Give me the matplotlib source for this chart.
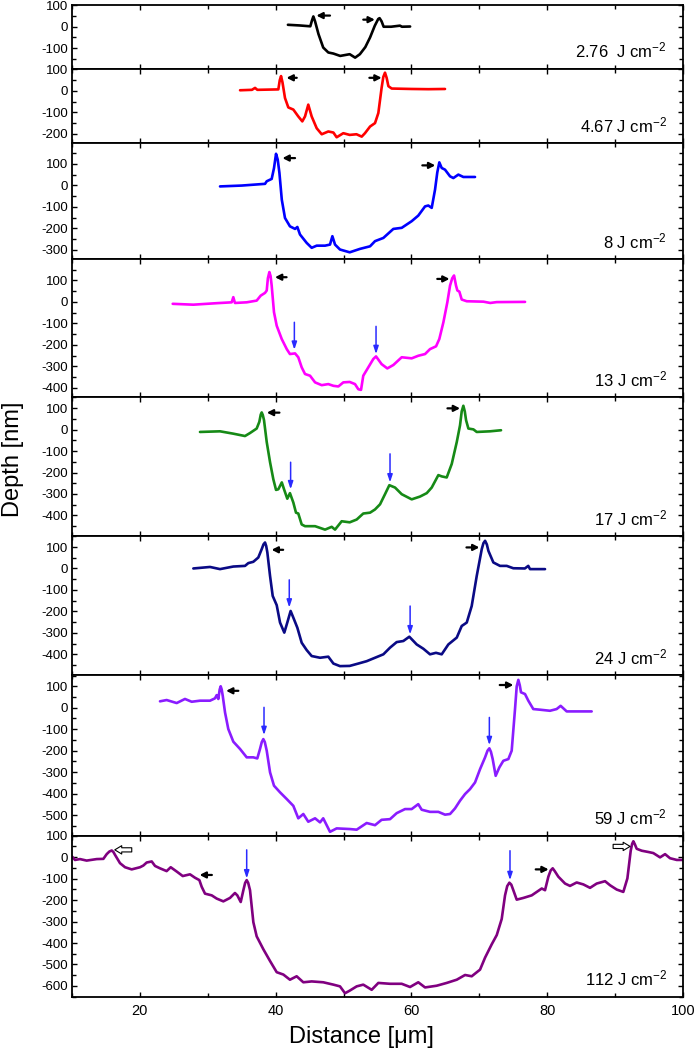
import matplotlib
matplotlib.use("Agg")
import matplotlib.pyplot as plt
from matplotlib.ticker import MultipleLocator

plt.rcParams['font.family'] = ['Liberation Sans', 'DejaVu Sans']
plt.rcParams['mathtext.default'] = 'regular'
plt.rcParams['axes.unicode_minus'] = False

# profile data (x in um, depth in nm)
x_276 = [41.8, 43.5, 45.1, 45.35, 45.55, 45.8, 46.3, 47.0, 47.75, 48.5, 49.5, 50.9, 51.7, 52.4, 53.2, 53.9, 54.6, 55.1, 55.3, 55.6,
         55.9, 57.0, 58.3, 58.6, 59.8]
y_276 = [9, 6, 2, 30, 48, 25, -34, -97, -120, -125, -136, -128, -144, -128, -95, -50, 5, 36, 40, 25,
         0, 0, 5, 0, 1]

x_467 = [34.75, 36.5, 36.96, 37.3, 40.39, 40.6, 40.79, 41.0, 41.37, 41.86, 42.6, 43.33, 43.92, 44.32, 44.8, 45.3, 46.04, 46.78,
         47.75, 48.5, 48.98, 49.96, 50.9, 51.9, 52.67, 53.15, 53.9, 54.63, 55.12, 55.6, 55.85, 56.1, 56.35, 56.6, 57.09, 60.0,
         62.5, 64.94]
y_467 = [3, 5, 14, 5, 7, 50, 69, 40, -33, -77, -87, -119, -142, -119, -64, -119, -174, -202,
         -189, -194, -216, -197, -205, -202, -213, -197, -166, -150, -103, 14, 65, 85, 60, 22, 11, 9,
         8, 9]

x_8 = [31.8, 35.0, 38.43, 38.68, 39.41, 39.75, 40.05, 40.3, 40.55, 40.9, 41.37, 42.1, 42.85, 43.19, 43.58, 44.56, 45.3, 46.04,
       47.27, 48.0, 48.35, 48.74, 49.47, 50.9, 52.42, 53.9, 54.63, 55.86, 57.33, 58.56, 60.03, 61.0, 62.0, 62.48, 62.98, 63.47,
       63.8, 64.1, 64.45, 64.94, 65.68, 66.17, 66.9, 67.64, 69.36]
y_8 = [-5, -1, 7, 19, 30, 80, 147, 120, 58, -67, -152, -191, -203, -194, -229, -268, -291, -281,
       -281, -276, -237, -276, -299, -312, -296, -284, -260, -245, -203, -198, -167, -141, -98, -94, -105, -20,
       60, 107, 81, 73, 42, 34, 50, 39, 39]

x_13 = [24.83, 27.87, 31.31, 33.52, 33.76, 34.0, 35.73, 37.2, 37.79, 38.43, 38.68, 38.85, 39.07, 39.25, 39.41, 39.75, 40.15, 40.89,
        41.63, 42.1, 42.85, 43.33, 43.83, 44.32, 45.06, 45.8, 46.78, 47.75, 48.5, 49.23, 49.96, 50.9, 51.68, 52.17, 52.57, 52.9,
        53.64, 54.38, 54.78, 55.6, 56.44, 57.33, 58.56, 60.03, 61.0, 62.0, 62.73, 63.62, 64.1, 64.7, 65.28, 65.68, 66.0, 66.27,
        66.56, 66.76, 67.05, 67.4, 68.14, 70.6, 71.6, 72.55, 76.73]
y_13 = [-9, -13, -6, -2, 22, -5, -2, 6, 29, 42, 53, 110, 139, 120, 76, -48, -111, -173,
        -220, -243, -240, -258, -305, -336, -344, -375, -388, -383, -391, -394, -375, -373, -383, -407, -410, -344,
        -305, -266, -254, -290, -310, -294, -258, -263, -251, -243, -220, -207, -173, -95, -2, 76, 110, 123,
        76, 53, 48, 11, 3, 1, -5, -1, 0]

x_17 = [28.85, 31.8, 33.76, 35.48, 36.22, 37.2, 37.59, 37.8, 37.94, 38.1, 38.28, 38.68, 39.17, 39.65, 40.05, 40.39, 40.9, 41.23,
        41.71, 42.1, 42.6, 42.99, 43.33, 43.83, 44.32, 45.8, 47.27, 48.25, 48.74, 49.72, 50.9, 51.93, 52.9, 53.9, 54.63, 55.37,
        56.1, 56.74, 57.58, 58.56, 60.03, 61.26, 62.25, 62.98, 63.96, 64.45, 65.19, 65.93, 66.67, 67.15, 67.4, 67.64, 67.85,
        68.04, 68.38, 69.12, 69.61, 71.57, 73.19]
y_17 = [-11, -8, -19, -30, -16, 5, 36, 70, 80, 68, 44, -58, -152, -231, -281, -278, -246, -278,
        -322, -296, -340, -387, -391, -442, -450, -450, -466, -453, -466, -427, -432, -419, -391, -387, -372, -348,
        -301, -259, -270, -301, -325, -312, -296, -270, -212, -218, -223, -160, -58, 20, 85, 111, 85,
        44, 5, 1, -11, -8, -3]

x_24 = [27.87, 30.33, 31.8, 33.76, 35.48, 35.97, 36.7, 37.44, 37.94, 38.2, 38.43, 38.6, 38.77, 39.17, 39.56, 40.15, 40.64, 41.27,
        41.71, 42.2, 42.7, 43.19, 43.83, 44.56, 45.3, 46.53, 47.75, 48.5, 49.47, 50.9, 52.17, 53.4, 54.63, 55.86, 56.84, 57.82,
        58.8, 59.68, 60.77, 61.75, 62.73, 63.61, 64.45, 65.43, 66.67, 67.4, 68.14, 68.87, 69.61, 70.35, 70.6, 70.84, 71.1,
        71.33, 72.06, 73.04, 74.03, 75.0, 76.7, 77.2, 77.46, 79.67]
y_24 = [0, 7, -3, 9, 12, 25, 31, 51, 90, 112, 121, 105, 75, -35, -128, -171, -252, -299,
        -252, -198, -237, -276, -346, -380, -408, -416, -411, -443, -455, -454, -443, -432, -416, -400, -369, -343,
        -338, -318, -354, -374, -400, -393, -400, -354, -322, -268, -252, -175, -35, 90, 118, 129, 112,
        82, 28, 12, 12, 1, 0, 12, -3, -3]

x_59 = [22.96, 23.94, 25.42, 26.64, 27.63, 28.85, 30.33, 31.06, 31.31, 31.55, 31.75, 31.9, 32.05, 32.2, 32.54, 33.02, 33.76, 34.75,
        35.73, 36.7, 37.29, 37.69, 37.95, 38.18, 38.4, 38.68, 39.17, 39.75, 40.64, 41.62, 42.6, 43.33, 44.07, 44.8, 45.8, 46.53,
        47.0, 48.0, 48.98, 50.9, 51.93, 53.4, 54.63, 55.6, 56.84, 57.82, 59.05, 60.03, 61.0, 61.5, 62.73, 63.96, 64.94, 65.68,
        66.41, 67.15, 67.89, 68.62, 69.36, 70.1, 70.84, 71.2, 71.47, 71.7, 71.96, 72.4, 72.94, 73.53, 74.27, 74.76, 75.25,
        75.5, 75.74, 75.95, 76.13, 76.72, 77.21, 77.94, 78.93, 80.4, 81.38, 81.97, 82.86, 86.54]
y_59 = [30, 36, 22, 41, 28, 33, 33, 44, 59, 41, 85, 100, 85, 56, -22, -99, -158, -192,
        -231, -231, -236, -192, -160, -146, -160, -200, -301, -363, -394, -425, -457, -515, -495, -531, -515, -534,
        -515, -578, -562, -565, -568, -537, -547, -522, -519, -491, -472, -472, -449, -475, -485, -485, -498, -495,
        -469, -433, -402, -379, -348, -286, -231, -200, -189, -205, -239, -317, -278, -247, -239, -200, -6,
        100, 130, 105, 72, 64, 33, -6, -9, -14, -6, 9, -17, -17]

x_112 = [10.0, 10.44, 11.18, 12.16, 13.64, 14.62, 15.11, 15.5, 15.85, 16.1, 16.33, 17.07, 17.81, 18.79, 20.02, 20.51, 21.0, 21.74,
         22.23, 22.96, 23.94, 24.54, 25.42, 26.31, 27.38, 28.12, 28.76, 29.1, 29.59, 30.58, 31.31, 32.29, 33.27, 34.0, 34.35,
         34.85, 35.24, 35.5, 35.73, 35.95, 36.22, 36.71, 37.2, 38.18, 39.17, 40.15, 41.13, 42.1, 43.09, 44.07, 45.3, 47.01, 48.5,
         49.47, 50.21, 50.9, 51.93, 52.9, 54.14, 55.12, 56.84, 58.56, 59.79, 61.0, 62.0, 63.71, 65.19, 66.67, 67.89, 68.87, 70.1,
         70.84, 71.82, 72.56, 73.29, 73.78, 74.1, 74.42, 74.7, 74.91, 75.5, 76.48, 77.71, 78.45, 79.19, 79.67, 80.16, 80.5,
         80.8, 81.1, 81.63, 82.62, 83.35, 84.33, 85.31, 86.3, 87.28, 88.51, 89.25, 90.23, 91.2, 91.8, 92.29, 92.5, 92.68, 92.9,
         93.17, 93.91, 94.89, 95.62, 96.61, 97.35, 98.08, 99.07, 100.0]
y_112 = [3, -13, -9, -16, -9, -8, 14, 26, 31, 24, 11, -28, -47, -57, -47, -39, -25, -20,
         -41, -52, -65, -47, -67, -88, -80, -96, -107, -138, -170, -178, -193, -206, -190, -167, -178,
         -209, -154, -120, -107, -120, -154, -303, -369, -429, -484, -536, -547, -571, -555, -583, -579, -583, -594,
         -602, -634, -622, -602, -594, -618, -586, -590, -590, -605, -583, -607, -599, -586, -571, -549, -555, -524,
         -468, -406, -363, -288, -178, -135, -119, -128, -146, -198, -190, -178, -162, -146, -154, -91, -62,
         -52, -65, -91, -123, -134, -118, -127, -143, -123, -112, -131, -151, -162, -99, 30, 62, 74, 60,
         39, 30, 24, 19, -1, 14, -5, -13, -13]

profiles = [(x_276, y_276), (x_467, y_467), (x_8, y_8), (x_13, y_13),
            (x_17, y_17), (x_24, y_24), (x_59, y_59), (x_112, y_112)]
labels = ['2.76  J cm$^{-2}$', '4.67 J cm$^{-2}$', '8 J cm$^{-2}$', '13 J cm$^{-2}$',
          '17 J cm$^{-2}$', '24 J cm$^{-2}$', '59 J cm$^{-2}$', '112 J cm$^{-2}$']
colors = ['black', '#ff0000', '#0000ff', '#ff00ff', '#168a16', '#0a0a85', '#8a1cff', '#800080']
ylims = [(-197, 101), (-245, 102), (-345, 195), (-445, 198), (-497, 150), (-497, 150), (-596, 152), (-650, 100)]

# black arrows: (x_tail, x_head, y) for rim peaks
black_arrows = [
    [(48.0, 46.0, 52), (52.9, 54.6, 33)],
    [(43.1, 41.6, 61), (53.8, 55.6, 61)],
    [(42.85, 41.0, 127), (61.6, 63.5, 93)],
    [(41.6, 39.9, 115), (63.8, 65.6, 107)],
    [(40.55, 38.7, 79), (65.3, 67.15, 99)],
    [(41.1, 39.4, 87), (68.1, 70.0, 98)],
    [(34.5, 32.7, 79), (73.0, 75.0, 106)],
    [(30.6, 28.8, -83), (78.3, 80.2, -57)],
]
# blue arrows: (x, y_top, y_tip)
blue_arrows = [
    [], [], [],
    [(42.75, -95, -223), (54.78, -114, -243)],
    [(42.2, -152, -278), (56.84, -113, -246)],
    [(42.0, -53, -182), (59.8, -175, -307)],
    [(38.28, 2, -127), (71.47, -45, -174)],
    [(35.73, 34, -99), (74.51, 30, -107)],
]
# open arrows on the last profile
open_arrows = [(18.8, 16.3, 34), (89.7, 92.2, 50)]

heights = [hi - lo for lo, hi in ylims]

fig = plt.figure(figsize=(6.97, 10.52), dpi=100)
gs = fig.add_gridspec(8, 1, height_ratios=heights, hspace=0,
                      left=0.1033, right=0.98, top=0.9952, bottom=0.0526)

axes = []
for i in range(8):
    ax = fig.add_subplot(gs[i], sharex=axes[0] if axes else None)
    axes.append(ax)
    xs, ys = profiles[i]
    ax.plot(xs, ys, color=colors[i], lw=1.9, solid_joinstyle='round', solid_capstyle='round')
    ax.set_xlim(10, 100)
    ax.set_ylim(*ylims[i])
    ax.xaxis.set_major_locator(MultipleLocator(20))
    ax.xaxis.set_minor_locator(MultipleLocator(10))
    ax.yaxis.set_major_locator(MultipleLocator(100))
    ax.yaxis.set_minor_locator(MultipleLocator(50))
    ax.tick_params(which='both', direction='in', top=True, right=True, width=1.0)
    ax.tick_params(which='major', length=3.5, labelsize=9.5, pad=3)
    ax.tick_params(which='minor', length=3.0)
    ax.tick_params(axis='x', labelsize=10.5, pad=5)
    for sp in ax.spines.values():
        sp.set_linewidth(1.3)
    if i < 7:
        ax.tick_params(axis='x', labelbottom=False)

    ax.annotate(labels[i], xy=(1, 0), xycoords='axes fraction', xytext=(-11.5, 8),
                textcoords='offset points', ha='right', va='baseline', fontsize=12)

    for xt, xh, ya in black_arrows[i]:
        ax.annotate('', xy=(xh, ya), xytext=(xt, ya),
                    arrowprops=dict(arrowstyle='-|>,head_length=0.35,head_width=0.18',
                                    color='black', lw=1.6, shrinkA=0, shrinkB=0))
    for xa, y0, y1 in blue_arrows[i]:
        ax.annotate('', xy=(xa, y1), xytext=(xa, y0),
                    arrowprops=dict(arrowstyle='-|>,head_length=0.45,head_width=0.15',
                                    color='#2a2aff', lw=1.1, shrinkA=0, shrinkB=0))

ax = axes[7]
for xt, xh, ya in open_arrows:
    ax.annotate('', xy=(xh, ya), xytext=(xt, ya),
                arrowprops=dict(arrowstyle='simple,head_length=0.5,head_width=0.6,tail_width=0.3',
                                fc='white', ec='black', lw=0.8, shrinkA=0, shrinkB=0))

fig.text(0.0187, 1 - 459 / 1052, 'Depth [nm]', rotation=90, ha='center', va='center', fontsize=17)
fig.text(361 / 697, 1 - 1043 / 1052, 'Distance [\u03bcm]', ha='center', va='baseline', fontsize=17)

fig.savefig('out.png', dpi=100)
